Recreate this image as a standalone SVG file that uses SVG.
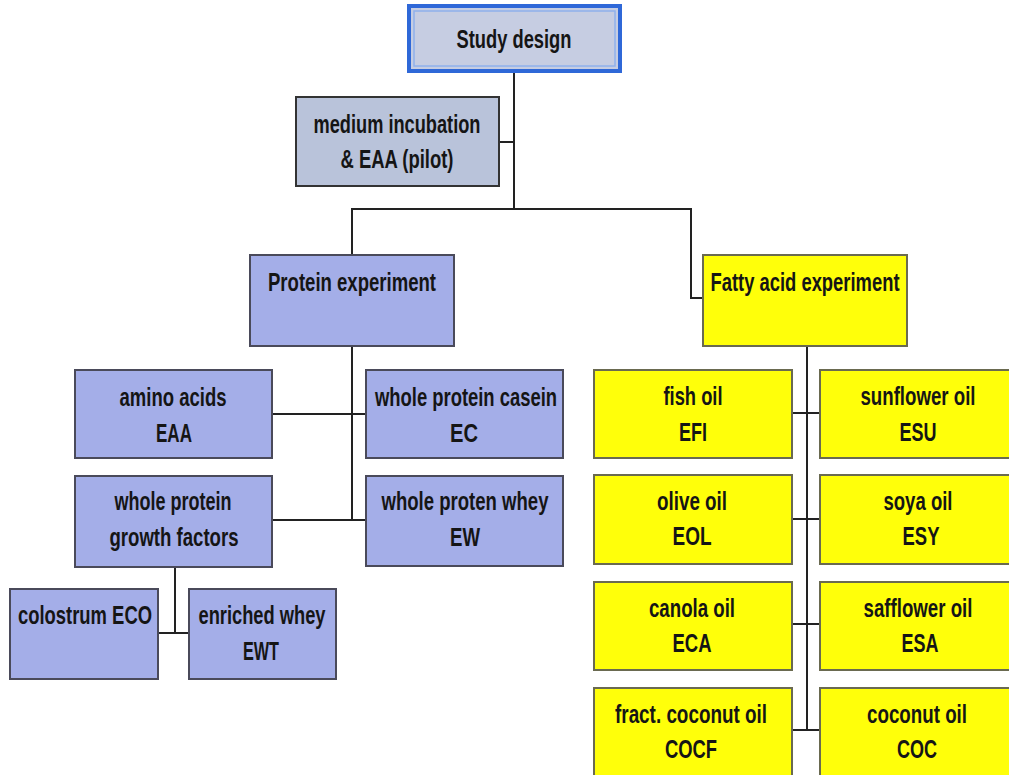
<svg xmlns="http://www.w3.org/2000/svg" width="1009" height="775" viewBox="0 0 1009 775">
<style>
.t{font-family:"Liberation Sans",Arial,sans-serif;font-weight:bold;font-size:25px;fill:#151515;text-anchor:middle}
.b{fill:#a4aee8;stroke:#4a4a5a;stroke-width:2}
.y{fill:#ffff0a;stroke:#6a6a50;stroke-width:2}
.g{fill:#b9c3da;stroke:#333;stroke-width:2}
.c{fill:none;stroke:#222;stroke-width:2}
</style>
<rect width="1009" height="775" fill="#fff"/>
<g id="connectors">
<path class="c" d="M514 72V209M499 142H514M352 255V209H691V298H704"/>
<path class="c" d="M352 346V520M272 414H366M272 520H366"/>
<path class="c" d="M175 567V633M158 633H189"/>
<path class="c" d="M807 346V731M792 413H820M792 519H820M792 624H820M792 730H820"/>
</g>
<g id="study-design">
<rect x="409" y="6" width="211" height="65" fill="#c6cde2" stroke="#2f68d8" stroke-width="4"/>
<rect x="414" y="11" width="201" height="55" fill="none" stroke="#8fb0ec" stroke-width="1.5"/>
<text class="t" x="514" y="48" textLength="115" lengthAdjust="spacingAndGlyphs">Study design</text>
</g>
<g id="medium-incubation">
<rect class="g" x="296" y="97" width="203" height="89"/>
<text class="t" x="397" y="133" textLength="167" lengthAdjust="spacingAndGlyphs">medium incubation</text>
<text class="t" x="397" y="168" textLength="113" lengthAdjust="spacingAndGlyphs">&amp; EAA (pilot)</text>
</g>
<g id="protein-experiment">
<rect class="b" x="250" y="255" width="204" height="91"/>
<text class="t" x="352" y="291" textLength="168" lengthAdjust="spacingAndGlyphs">Protein experiment</text>
</g>
<g id="fatty-acid-experiment">
<rect class="y" x="703" y="255" width="204" height="91"/>
<text class="t" x="805" y="291" textLength="189" lengthAdjust="spacingAndGlyphs">Fatty acid experiment</text>
</g>
<g id="amino-acids">
<rect class="b" x="75" y="370" width="197" height="88"/>
<text class="t" x="173" y="406" textLength="107" lengthAdjust="spacingAndGlyphs">amino acids</text>
<text class="t" x="174" y="442" textLength="36" lengthAdjust="spacingAndGlyphs">EAA</text>
</g>
<g id="casein">
<rect class="b" x="366" y="370" width="197" height="88"/>
<text class="t" x="466" y="406" textLength="182" lengthAdjust="spacingAndGlyphs">whole protein casein</text>
<text class="t" x="464" y="442" textLength="28" lengthAdjust="spacingAndGlyphs">EC</text>
</g>
<g id="growth-factors">
<rect class="b" x="75" y="476" width="197" height="91"/>
<text class="t" x="173" y="510" textLength="117" lengthAdjust="spacingAndGlyphs">whole protein</text>
<text class="t" x="174" y="546" textLength="129" lengthAdjust="spacingAndGlyphs">growth factors</text>
</g>
<g id="whey">
<rect class="b" x="366" y="476" width="197" height="90"/>
<text class="t" x="465" y="510" textLength="167" lengthAdjust="spacingAndGlyphs">whole proten whey</text>
<text class="t" x="465" y="546" textLength="30" lengthAdjust="spacingAndGlyphs">EW</text>
</g>
<g id="colostrum">
<rect class="b" x="10" y="589" width="148" height="90"/>
<text class="t" x="85" y="624" textLength="134" lengthAdjust="spacingAndGlyphs">colostrum ECO</text>
</g>
<g id="enriched-whey">
<rect class="b" x="189" y="589" width="147" height="90"/>
<text class="t" x="262" y="624" textLength="127" lengthAdjust="spacingAndGlyphs">enriched whey</text>
<text class="t" x="261" y="660" textLength="36" lengthAdjust="spacingAndGlyphs">EWT</text>
</g>
<g id="fish-oil">
<rect class="y" x="594" y="370" width="198" height="88"/>
<text class="t" x="693" y="405" textLength="59" lengthAdjust="spacingAndGlyphs">fish oil</text>
<text class="t" x="693" y="441" textLength="28" lengthAdjust="spacingAndGlyphs">EFI</text>
</g>
<g id="sunflower-oil">
<rect class="y" x="820" y="370" width="190" height="88"/>
<text class="t" x="918" y="405" textLength="115" lengthAdjust="spacingAndGlyphs">sunflower oil</text>
<text class="t" x="918" y="441" textLength="37" lengthAdjust="spacingAndGlyphs">ESU</text>
</g>
<g id="olive-oil">
<rect class="y" x="594" y="475" width="198" height="89"/>
<text class="t" x="692" y="510" textLength="70" lengthAdjust="spacingAndGlyphs">olive oil</text>
<text class="t" x="692" y="545" textLength="39" lengthAdjust="spacingAndGlyphs">EOL</text>
</g>
<g id="soya-oil">
<rect class="y" x="820" y="475" width="190" height="89"/>
<text class="t" x="918" y="510" textLength="69" lengthAdjust="spacingAndGlyphs">soya oil</text>
<text class="t" x="921" y="545" textLength="37" lengthAdjust="spacingAndGlyphs">ESY</text>
</g>
<g id="canola-oil">
<rect class="y" x="594" y="582" width="198" height="88"/>
<text class="t" x="692" y="617" textLength="86" lengthAdjust="spacingAndGlyphs">canola oil</text>
<text class="t" x="692" y="652" textLength="39" lengthAdjust="spacingAndGlyphs">ECA</text>
</g>
<g id="safflower-oil">
<rect class="y" x="820" y="582" width="190" height="88"/>
<text class="t" x="918" y="617" textLength="109" lengthAdjust="spacingAndGlyphs">safflower oil</text>
<text class="t" x="920" y="652" textLength="37" lengthAdjust="spacingAndGlyphs">ESA</text>
</g>
<g id="fract-coconut-oil">
<rect class="y" x="594" y="688" width="198" height="92"/>
<text class="t" x="691" y="723" textLength="152" lengthAdjust="spacingAndGlyphs">fract. coconut oil</text>
<text class="t" x="691" y="758" textLength="52" lengthAdjust="spacingAndGlyphs">COCF</text>
</g>
<g id="coconut-oil">
<rect class="y" x="820" y="688" width="190" height="92"/>
<text class="t" x="917" y="723" textLength="100" lengthAdjust="spacingAndGlyphs">coconut oil</text>
<text class="t" x="917" y="758" textLength="40" lengthAdjust="spacingAndGlyphs">COC</text>
</g>
</svg>
